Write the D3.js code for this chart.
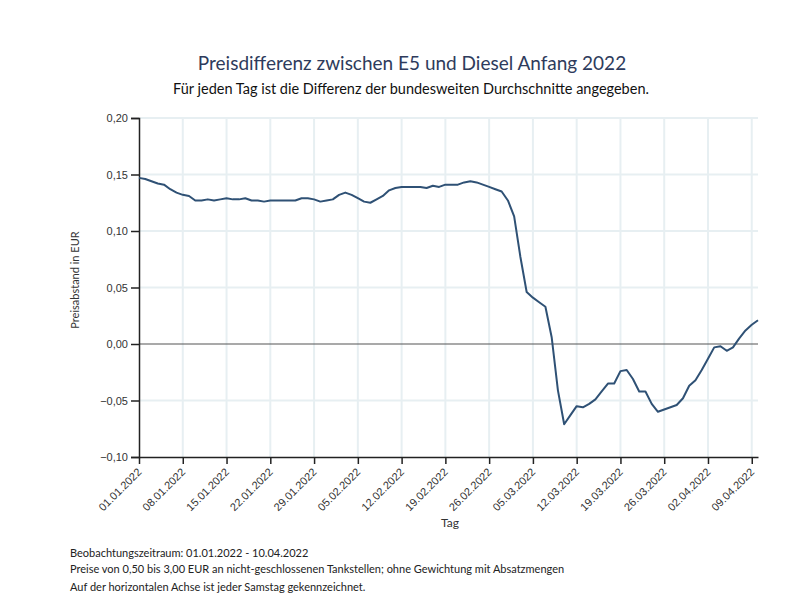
<!DOCTYPE html>
<html>
<head>
<meta charset="utf-8">
<script src="https://cdn.jsdelivr.net/npm/d3@7"></script>
<style>
  body { margin: 0; background: #fff; }
  svg { font-family: Lato, "Open Sans", sans-serif; }
</style>
</head>
<body>
<div id="chart"></div>
<script>
// data: one value per day, 01.01.2022 - 10.04.2022
var startDate = "2022-01-01";
var diffValues = [
  0.147, 0.146, 0.144, 0.142, 0.141, 0.137, 0.134, 0.132, 0.131, 0.127,
  0.127, 0.128, 0.127, 0.128, 0.129, 0.128, 0.128, 0.129, 0.127, 0.127,
  0.126, 0.127, 0.127, 0.127, 0.127, 0.127, 0.129, 0.129, 0.128, 0.126,
  0.127, 0.128, 0.132, 0.134, 0.132, 0.129, 0.126, 0.125, 0.128, 0.131,
  0.136, 0.138, 0.139, 0.139, 0.139, 0.139, 0.138, 0.140, 0.139, 0.141,
  0.141, 0.141, 0.143, 0.144, 0.143, 0.141, 0.139, 0.137, 0.135, 0.127,
  0.113, 0.077, 0.046, 0.041, 0.037, 0.033, 0.006, -0.041, -0.071, -0.063,
  -0.055, -0.056, -0.053, -0.049, -0.042, -0.035, -0.035, -0.024, -0.023, -0.031,
  -0.042, -0.042, -0.053, -0.060, -0.058, -0.056, -0.054, -0.048, -0.037, -0.032,
  -0.023, -0.013, -0.003, -0.002, -0.006, -0.003, 0.005, 0.012, 0.017, 0.021
];
var yTicks = [-0.10, -0.05, 0.00, 0.05, 0.10, 0.15, 0.20];
var xTickLabels = ["01.01.2022", "08.01.2022", "15.01.2022", "22.01.2022", "29.01.2022",
  "05.02.2022", "12.02.2022", "19.02.2022", "26.02.2022", "05.03.2022",
  "12.03.2022", "19.03.2022", "26.03.2022", "02.04.2022", "09.04.2022"];
var footerLines = [
  "Beobachtungszeitraum: 01.01.2022 - 10.04.2022",
  "Preise von 0,50 bis 3,00 EUR an nicht-geschlossenen Tankstellen; ohne Gewichtung mit Absatzmengen",
  "Auf der horizontalen Achse ist jeder Samstag gekennzeichnet."
];

var fullWidth = 803, fullHeight = 594;
var margin = { left: 139, right: 45, top: 118, bottom: 137 };
var width = fullWidth - margin.left - margin.right;
var height = fullHeight - margin.top - margin.bottom;

var parseDate = d3.timeParse("%Y-%m-%d");
var parseLabel = d3.timeParse("%d.%m.%Y");
var fmtNum = d3.format(".2f");

var t0 = parseDate(startDate);
var data = diffValues.map(function (v, i) {
  return { date: d3.timeDay.offset(t0, i), value: v };
});

var svg = d3.select("#chart").append("svg")
  .attr("width", fullWidth)
  .attr("height", fullHeight);

var chartGroup = svg.append("g")
  .attr("transform", "translate(" + margin.left + "," + margin.top + ")");

var x = d3.scaleTime()
  .domain(d3.extent(data, function (d) { return d.date; }))
  .range([0, width]);

var y = d3.scaleLinear()
  .domain([-0.10, 0.20])
  .range([height, 0]);

var tickDates = xTickLabels.map(function (s) { return parseLabel(s); });

// grid
chartGroup.append("g").selectAll("line.vgrid")
  .data(tickDates.slice(1))
  .enter().append("line")
  .attr("x1", function (d) { return x(d); })
  .attr("x2", function (d) { return x(d); })
  .attr("y1", 0).attr("y2", height)
  .attr("stroke", "#e7eff2")
  .attr("stroke-width", 2);

chartGroup.append("g").selectAll("line.hgrid")
  .data(yTicks.filter(function (d) { return d !== 0 && d !== -0.10; }))
  .enter().append("line")
  .attr("x1", 0).attr("x2", width)
  .attr("y1", function (d) { return y(d); })
  .attr("y2", function (d) { return y(d); })
  .attr("stroke", "#e7eff2")
  .attr("stroke-width", 2);

// zero line
chartGroup.append("line")
  .attr("x1", 0).attr("x2", width)
  .attr("y1", y(0)).attr("y2", y(0))
  .attr("stroke", "#555")
  .attr("stroke-width", 1.2);

// y axis
var yAxis = chartGroup.append("g")
  .call(d3.axisLeft(y).tickValues(yTicks).tickFormat(function (d) {
    return fmtNum(d).replace(".", ",");
  }).tickSize(8).tickPadding(3));
yAxis.select(".domain").attr("stroke", "#222").attr("stroke-width", 1.5);
yAxis.selectAll(".tick line").attr("stroke", "#222").attr("stroke-width", 1.5);
yAxis.selectAll("text").attr("fill", "#333").style("font-size", "11px");

// x axis
var xAxis = chartGroup.append("g")
  .attr("transform", "translate(0," + height + ")")
  .call(d3.axisBottom(x).tickValues(tickDates)
    .tickFormat(d3.timeFormat("%d.%m.%Y")).tickSize(7).tickSizeOuter(0));
xAxis.select(".domain").attr("stroke", "#222").attr("stroke-width", 1.5);
xAxis.selectAll(".tick line").attr("stroke", "#222").attr("stroke-width", 1.5);
xAxis.selectAll("text")
  .attr("fill", "#333")
  .style("font-size", "11px")
  .style("text-anchor", "end")
  .attr("x", 0)
  .attr("y", 0)
  .attr("dx", 0)
  .attr("dy", "0.35em")
  .attr("transform", "translate(0,13) rotate(-45)");

// line
var line = d3.line()
  .x(function (d) { return x(d.date); })
  .y(function (d) { return y(d.value); });

chartGroup.append("path")
  .datum(data)
  .attr("fill", "none")
  .attr("stroke", "#2f5175")
  .attr("stroke-width", 2)
  .attr("stroke-linejoin", "round")
  .attr("d", line);

// titles
svg.append("text")
  .attr("x", 412).attr("y", 70)
  .attr("text-anchor", "middle")
  .attr("fill", "#2e3b5c")
  .style("font-size", "19px")
  .text("Preisdifferenz zwischen E5 und Diesel Anfang 2022");

svg.append("text")
  .attr("x", 411).attr("y", 94)
  .attr("text-anchor", "middle")
  .attr("fill", "#111")
  .style("font-size", "14.5px")
  .text("Für jeden Tag ist die Differenz der bundesweiten Durchschnitte angegeben.");

// axis titles
svg.append("text")
  .attr("transform", "translate(79," + 280 + ") rotate(-90)")
  .attr("text-anchor", "middle")
  .attr("fill", "#333")
  .style("font-size", "11px")
  .text("Preisabstand in EUR");

svg.append("text")
  .attr("x", 450).attr("y", 527)
  .attr("text-anchor", "middle")
  .attr("fill", "#333")
  .style("font-size", "12px")
  .text("Tag");

// footer
svg.append("g").selectAll("text")
  .data(footerLines)
  .enter().append("text")
  .attr("x", 70)
  .attr("y", function (d, i) { return [557, 573, 591][i]; })
  .attr("fill", "#222")
  .style("font-size", "11px")
  .text(function (d) { return d; });
</script>
</body>
</html>
